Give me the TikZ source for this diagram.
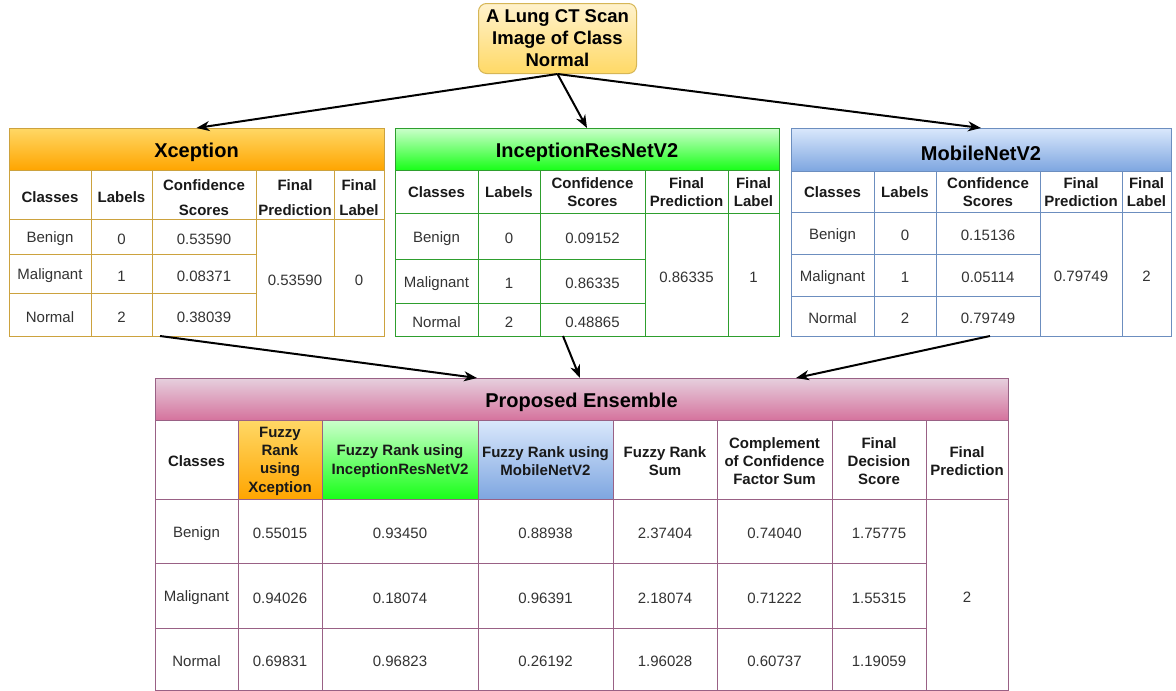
\documentclass[tikz,border=0pt]{standalone}
\usepackage{fontspec}
\setmainfont{Liberation Sans}
\usetikzlibrary{arrows.meta}

% table palette
\definecolor{xline}{HTML}{CCA23E}
\definecolor{xtop}{HTML}{FFD866}
\definecolor{xbot}{HTML}{FFA500}
\definecolor{iline}{HTML}{2E9E2E}
\definecolor{itop}{HTML}{CCFFCC}
\definecolor{ibot}{HTML}{19FF19}
\definecolor{mline}{HTML}{6C8EBF}
\definecolor{mtop}{HTML}{DAE8FC}
\definecolor{mbot}{HTML}{7EA6E0}
\definecolor{eline}{HTML}{996185}
\definecolor{etop}{HTML}{E6D0DE}
\definecolor{ebot}{HTML}{D5739D}
\definecolor{ntop}{HTML}{FFF2CC}
\definecolor{nbot}{HTML}{FFD966}
\definecolor{nline}{HTML}{D6B656}
\definecolor{bodytext}{HTML}{333333}

% one table cell given by its corners (x1,y1)-(x2,y2), y growing downwards:
% #1 name, #2-#5 corners, #6 frame style, #7 text style, #8 text
\newcommand\cellbox[8]{%
  \pgfmathsetmacro\cw{#4-#2}%
  \pgfmathsetmacro\ch{#5-#3}%
  \node[cellbase,#6,minimum width=\cw pt,minimum height=\ch pt,anchor=north west] (#1) at (#2,#3) {};
  \node[celltext,#7] (#1-t) at (#1.center) {#8};}

\tikzset{
  cellbase/.style={draw, inner sep=0pt, outer sep=0pt, line width=1pt, fill=white},
  celltext/.style={inner sep=0pt, align=center},
  title/.style={font=\fontsize{20}{24}\selectfont\bfseries, text=black, yshift=-3.5pt},
  colhead/.style={font=\fontsize{15}{18}\selectfont\bfseries, text=black!90, yshift=-1pt},
  colheadwide/.style={font=\fontsize{15}{25}\selectfont\bfseries, text=black!90, yshift=-3.5pt},
  enshead/.style={font=\fontsize{15}{18.3}\selectfont\bfseries, text=black!90, yshift=-1.5pt},
  body/.style={font=\fontsize{15}{18}\selectfont, text=bodytext, yshift=-2.5pt},
  xcell/.style={draw=xline},
  icell/.style={draw=iline},
  mcell/.style={draw=mline},
  ecell/.style={draw=eline},
  conn/.style={line width=2pt, -{Stealth[length=13pt,width=10pt,inset=4pt]}},
}

\begin{document}
\begin{tikzpicture}[x=1pt,y=-1pt]
\useasboundingbox[fill=white] (0,0) rectangle (1176,691);

% input image box
\node[draw=nline, line width=1pt, rounded corners=8pt, top color=ntop, bottom color=nbot,
      minimum width=158pt, minimum height=70pt, align=center, inner sep=0pt,
      font=\fontsize{18.5}{22}\selectfont\bfseries, anchor=north west] (img) at (478,3)
      {A Lung CT Scan\\Image of Class\\Normal};

% ---------------- Xception ----------------
\cellbox{xh}{9}{128}{384}{170}{xcell,top color=xtop,bottom color=xbot}{title}{Xception}
\cellbox{xc1}{9}{170}{91}{219}{xcell}{colhead,yshift=-2pt}{Classes}
\cellbox{xc2}{91}{170}{152}{219}{xcell}{colhead,yshift=-2pt}{Labels}
\cellbox{xc3}{152}{170}{256}{219}{xcell}{colheadwide}{Confidence\\Scores}
\cellbox{xc4}{256}{170}{334}{219}{xcell}{colheadwide}{Final\\Prediction}
\cellbox{xc5}{334}{170}{384}{219}{xcell}{colheadwide}{Final\\Label}
\cellbox{xa1}{9}{219}{91}{254}{xcell}{body}{Benign}
\cellbox{xa2}{91}{219}{152}{254}{xcell}{body}{0}
\cellbox{xa3}{152}{219}{256}{254}{xcell}{body}{0.53590}
\cellbox{xb1}{9}{254}{91}{293}{xcell}{body}{Malignant}
\cellbox{xb2}{91}{254}{152}{293}{xcell}{body}{1}
\cellbox{xb3}{152}{254}{256}{293}{xcell}{body}{0.08371}
\cellbox{xd1}{9}{293}{91}{336}{xcell}{body}{Normal}
\cellbox{xd2}{91}{293}{152}{336}{xcell}{body}{2}
\cellbox{xd3}{152}{293}{256}{336}{xcell}{body}{0.38039}
\cellbox{xp}{256}{219}{334}{336}{xcell}{body}{0.53590}
\cellbox{xl}{334}{219}{384}{336}{xcell}{body}{0}

% ---------------- InceptionResNetV2 ----------------
\cellbox{ih}{395}{128}{779}{170}{icell,top color=itop,bottom color=ibot}{title}{InceptionResNetV2}
\cellbox{ic1}{395}{170}{478}{213}{icell}{colhead}{Classes}
\cellbox{ic2}{478}{170}{540}{213}{icell}{colhead}{Labels}
\cellbox{ic3}{540}{170}{645}{213}{icell}{colhead}{Confidence\\Scores}
\cellbox{ic4}{645}{170}{728}{213}{icell}{colhead}{Final\\Prediction}
\cellbox{ic5}{728}{170}{779}{213}{icell}{colhead}{Final\\Label}
\cellbox{ia1}{395}{213}{478}{259}{icell}{body}{Benign}
\cellbox{ia2}{478}{213}{540}{259}{icell}{body}{0}
\cellbox{ia3}{540}{213}{645}{259}{icell}{body}{0.09152}
\cellbox{ib1}{395}{259}{478}{303}{icell}{body}{Malignant}
\cellbox{ib2}{478}{259}{540}{303}{icell}{body}{1}
\cellbox{ib3}{540}{259}{645}{303}{icell}{body}{0.86335}
\cellbox{id1}{395}{303}{478}{336}{icell}{body}{Normal}
\cellbox{id2}{478}{303}{540}{336}{icell}{body}{2}
\cellbox{id3}{540}{303}{645}{336}{icell}{body}{0.48865}
\cellbox{ip}{645}{213}{728}{336}{icell}{body}{0.86335}
\cellbox{il}{728}{213}{779}{336}{icell}{body}{1}

% ---------------- MobileNetV2 ----------------
\cellbox{mh}{791}{128}{1171}{171}{mcell,top color=mtop,bottom color=mbot}{title}{MobileNetV2}
\cellbox{mc1}{791}{171}{874}{212}{mcell}{colhead}{Classes}
\cellbox{mc2}{874}{171}{936}{212}{mcell}{colhead}{Labels}
\cellbox{mc3}{936}{171}{1040}{212}{mcell}{colhead}{Confidence\\Scores}
\cellbox{mc4}{1040}{171}{1122}{212}{mcell}{colhead}{Final\\Prediction}
\cellbox{mc5}{1122}{171}{1171}{212}{mcell}{colhead}{Final\\Label}
\cellbox{ma1}{791}{212}{874}{254}{mcell}{body}{Benign}
\cellbox{ma2}{874}{212}{936}{254}{mcell}{body}{0}
\cellbox{ma3}{936}{212}{1040}{254}{mcell}{body}{0.15136}
\cellbox{mb1}{791}{254}{874}{296}{mcell}{body}{Malignant}
\cellbox{mb2}{874}{254}{936}{296}{mcell}{body}{1}
\cellbox{mb3}{936}{254}{1040}{296}{mcell}{body}{0.05114}
\cellbox{md1}{791}{296}{874}{336}{mcell}{body}{Normal}
\cellbox{md2}{874}{296}{936}{336}{mcell}{body}{2}
\cellbox{md3}{936}{296}{1040}{336}{mcell}{body}{0.79749}
\cellbox{mp}{1040}{212}{1122}{336}{mcell}{body}{0.79749}
\cellbox{ml}{1122}{212}{1171}{336}{mcell}{body}{2}

% ---------------- Proposed Ensemble ----------------
\cellbox{eh}{155}{378}{1008}{420}{ecell,top color=etop,bottom color=ebot}{title}{Proposed Ensemble}
\cellbox{ec1}{155}{420}{238}{499}{ecell}{enshead}{Classes}
\cellbox{ec2}{238}{420}{322}{499}{ecell,top color=xtop,bottom color=xbot}{enshead}{Fuzzy\\Rank\\using\\Xception}
\cellbox{ec3}{322}{420}{478}{499}{ecell,top color=itop,bottom color=ibot}{enshead}{Fuzzy Rank using\\InceptionResNetV2}
\cellbox{ec4}{478}{420}{613}{499}{ecell,top color=mtop,bottom color=mbot}{enshead}{Fuzzy Rank using\\MobileNetV2}
\cellbox{ec5}{613}{420}{717}{499}{ecell}{enshead}{Fuzzy Rank\\Sum}
\cellbox{ec6}{717}{420}{832}{499}{ecell}{enshead}{Complement\\of Confidence\\Factor Sum}
\cellbox{ec7}{832}{420}{926}{499}{ecell}{enshead}{Final\\Decision\\Score}
\cellbox{ec8}{926}{420}{1008}{499}{ecell}{enshead}{Final\\Prediction}

\cellbox{ea1}{155}{499}{238}{563}{ecell}{body}{Benign}
\cellbox{ea2}{238}{499}{322}{563}{ecell}{body}{0.55015}
\cellbox{ea3}{322}{499}{478}{563}{ecell}{body}{0.93450}
\cellbox{ea4}{478}{499}{613}{563}{ecell}{body}{0.88938}
\cellbox{ea5}{613}{499}{717}{563}{ecell}{body}{2.37404}
\cellbox{ea6}{717}{499}{832}{563}{ecell}{body}{0.74040}
\cellbox{ea7}{832}{499}{926}{563}{ecell}{body}{1.75775}

\cellbox{eb1}{155}{563}{238}{628}{ecell}{body}{Malignant}
\cellbox{eb2}{238}{563}{322}{628}{ecell}{body}{0.94026}
\cellbox{eb3}{322}{563}{478}{628}{ecell}{body}{0.18074}
\cellbox{eb4}{478}{563}{613}{628}{ecell}{body}{0.96391}
\cellbox{eb5}{613}{563}{717}{628}{ecell}{body}{2.18074}
\cellbox{eb6}{717}{563}{832}{628}{ecell}{body}{0.71222}
\cellbox{eb7}{832}{563}{926}{628}{ecell}{body}{1.55315}

\cellbox{ed1}{155}{628}{238}{690}{ecell}{body}{Normal}
\cellbox{ed2}{238}{628}{322}{690}{ecell}{body}{0.69831}
\cellbox{ed3}{322}{628}{478}{690}{ecell}{body}{0.96823}
\cellbox{ed4}{478}{628}{613}{690}{ecell}{body}{0.26192}
\cellbox{ed5}{613}{628}{717}{690}{ecell}{body}{1.96028}
\cellbox{ed6}{717}{628}{832}{690}{ecell}{body}{0.60737}
\cellbox{ed7}{832}{628}{926}{690}{ecell}{body}{1.19059}

\cellbox{ep}{926}{499}{1008}{690}{ecell}{body}{2}

% ---------------- connectors ----------------
\draw[conn] (img.south) -- (xh.north);
\draw[conn] (img.south) -- (ih.north);
\draw[conn] (img.south) -- (mh.north);
\draw[conn] ([xshift=8pt]xd3.south west) -- ([xshift=322pt]eh.north west);
\draw[conn] ([xshift=23pt]id3.south west) -- ([xshift=425pt]eh.north west);
\draw[conn] ([xshift=2pt]md3.south) -- ([xshift=641pt]eh.north west);
\end{tikzpicture}
\end{document}
